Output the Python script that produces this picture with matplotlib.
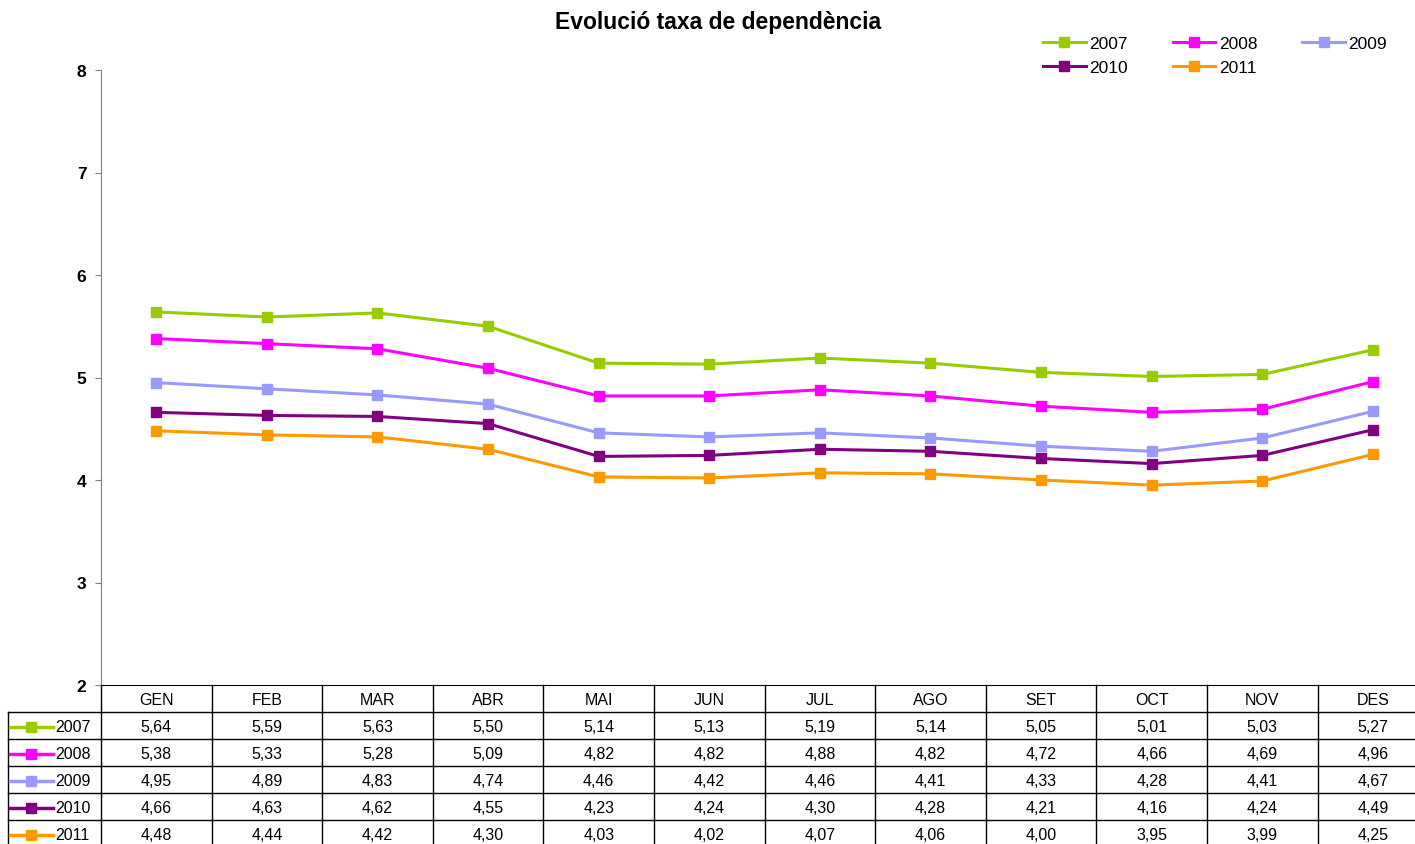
import matplotlib.pyplot as plt

plt.rcParams['font.family'] = ['Liberation Sans', 'DejaVu Sans']

# data
months = ['GEN', 'FEB', 'MAR', 'ABR', 'MAI', 'JUN', 'JUL', 'AGO', 'SET', 'OCT', 'NOV', 'DES']
years = ['2007', '2008', '2009', '2010', '2011']
v2007 = [5.64, 5.59, 5.63, 5.50, 5.14, 5.13, 5.19, 5.14, 5.05, 5.01, 5.03, 5.27]
v2008 = [5.38, 5.33, 5.28, 5.09, 4.82, 4.82, 4.88, 4.82, 4.72, 4.66, 4.69, 4.96]
v2009 = [4.95, 4.89, 4.83, 4.74, 4.46, 4.42, 4.46, 4.41, 4.33, 4.28, 4.41, 4.67]
v2010 = [4.66, 4.63, 4.62, 4.55, 4.23, 4.24, 4.30, 4.28, 4.21, 4.16, 4.24, 4.49]
v2011 = [4.48, 4.44, 4.42, 4.30, 4.03, 4.02, 4.07, 4.06, 4.00, 3.95, 3.99, 4.25]
series = [v2007, v2008, v2009, v2010, v2011]
colors = ['#99CC00', '#FF00FF', '#9999FF', '#800080', '#FF9900']

W, H = 1415, 845
fig = plt.figure(figsize=(W / 100, H / 100), dpi=100)

# layout in pixels (from the top-left)
col_w = 110.6
x0 = 101
x1 = x0 + 12 * col_w
y_top, y_bot = 71, 686
row_h = 27
lab_x = 8
fs_tab = 11.5

# main plot
ax = fig.add_axes([x0 / W, 1 - y_bot / H, (x1 - x0) / W, (y_bot - y_top) / H])
handles = []
for yr, vals, c in zip(years, series, colors):
    h, = ax.plot(range(len(months)), vals, color=c, lw=2.2, marker='s', ms=7, label=yr)
    handles.append(h)
ax.set_xlim(-0.5, len(months) - 0.5)
ax.set_ylim(2, 8)
ax.set_yticks(range(2, 9))
ax.set_yticklabels([str(t) for t in range(2, 9)], fontweight='bold', fontsize=12.5)
ax.set_xticks([])
ax.spines['top'].set_visible(False)
ax.spines['right'].set_visible(False)
ax.spines['left'].set_color('#808080')
ax.spines['bottom'].set_color('black')
ax.tick_params(axis='y', direction='out', length=4.5, pad=6, color='#808080')

# data table under the plot
tab = fig.add_axes([lab_x / W, 1 - (y_bot + 6 * row_h) / H, (x1 - lab_x) / W, 6 * row_h / H])
tab.set_xlim(lab_x, x1)
tab.set_ylim(y_bot + 6 * row_h, y_bot)
tab.axis('off')

for j in range(len(months) + 1):
    xx = x0 + j * col_w
    tab.plot([xx, xx], [y_bot, y_bot + 6 * row_h], color='black', lw=1, clip_on=False)
tab.plot([lab_x, lab_x], [y_bot + row_h, y_bot + 6 * row_h], color='black', lw=1, clip_on=False)
for i in range(1, 7):
    yy = y_bot + i * row_h
    tab.plot([lab_x, x1], [yy, yy], color='black', lw=1, clip_on=False)

for j, m in enumerate(months):
    tab.text(x0 + (j + 0.5) * col_w, y_bot + row_h / 2 + 1, m, ha='center', va='center', fontsize=fs_tab)

for i, (yr, vals, c) in enumerate(zip(years, series, colors)):
    yc = y_bot + (i + 1.5) * row_h + 1
    tab.plot([10, 53], [yc, yc], color=c, lw=2.5, clip_on=False)
    tab.plot([31], [yc], color=c, marker='s', ms=7.5, clip_on=False)
    tab.text(55, yc, yr, ha='left', va='center', fontsize=fs_tab)
    for j, v in enumerate(vals):
        tab.text(x0 + (j + 0.5) * col_w, yc, f'{v:.2f}'.replace('.', ','),
                 ha='center', va='center', fontsize=fs_tab)

# legend (row-wise order)
order = [0, 3, 1, 4, 2]
fig.legend([handles[k] for k in order], [years[k] for k in order], ncol=3,
           loc='upper left', bbox_to_anchor=(1043 / W, 1 - 37 / H), frameon=False,
           fontsize=12.5, handlelength=2.45, handletextpad=0.2, columnspacing=2.6,
           labelspacing=0.52, borderaxespad=0, borderpad=0)

fig.text(718 / W, 1 - 22 / H, 'Evolució taxa de dependència', ha='center', va='center',
         fontsize=16.5, fontweight='bold')

fig.savefig('out.png', dpi=100)
